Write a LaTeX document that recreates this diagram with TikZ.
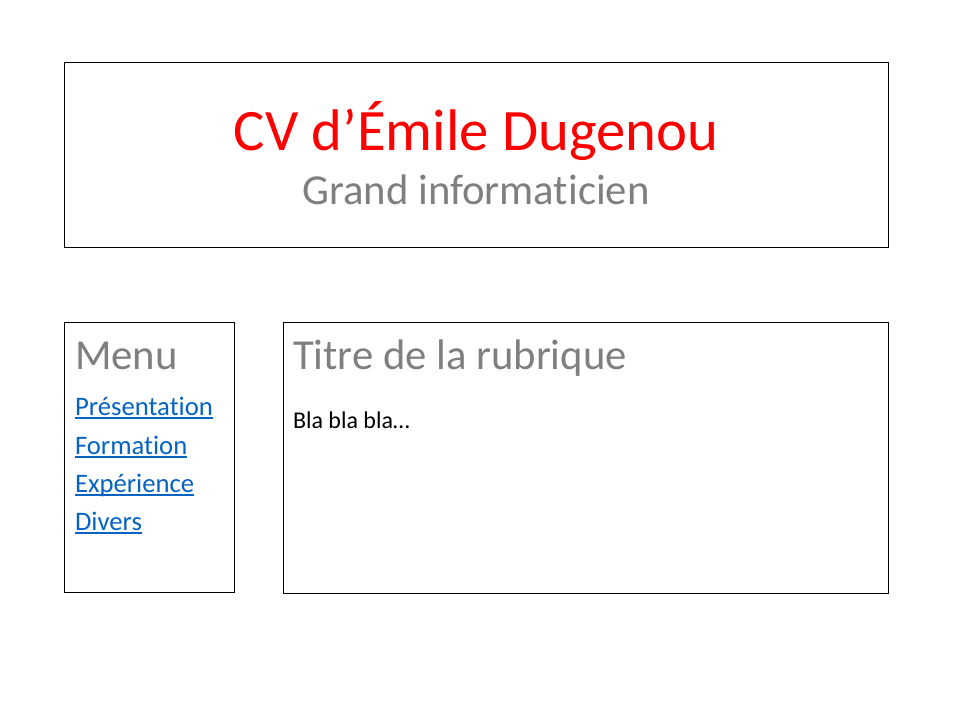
\documentclass[tikz,border=0pt]{standalone}
\usepackage{fontspec}
\setmainfont[Ligatures={NoCommon}]{Carlito}
\definecolor{cvred}{RGB}{255,0,0}
\definecolor{cvgray}{RGB}{127,127,127}
\definecolor{cvlink}{RGB}{5,99,193}
\begin{document}
\begin{tikzpicture}[x=1pt,y=-1pt,
  panel/.style={draw=black,line width=1pt},
  txt/.style={inner sep=0pt,outer sep=0pt},
  bigtitle/.style={txt,text=cvred,font=\fontsize{58.7}{70}\selectfont,anchor=base},
  subtitle/.style={txt,text=cvgray,font=\fontsize{42.7}{50}\selectfont,anchor=base},
  heading/.style={txt,text=cvgray,font=\fontsize{42.7}{50}\selectfont,anchor=base west},
  linktext/.style={txt,text=cvlink,font=\fontsize{26.7}{32}\selectfont,anchor=base west},
  bodytext/.style={txt,text=black,font=\fontsize{24}{29}\selectfont,anchor=base west},
  uline/.style={draw=cvlink,line width=1.6pt}
]
\useasboundingbox (0,0) rectangle (960,720);
\fill[white] (0,0) rectangle (960,720);
% panels
\draw[panel] (64,62) rectangle (888,247);
\draw[panel] (64,322) rectangle (234,592);
\draw[panel] (283,322) rectangle (888,593);
% header
\node[bigtitle] (title) at (476,150) {CV d’Émile Dugenou};
\node[subtitle] (sub) at (476,204) {Grand informaticien};
% menu
\node[heading] (menu) at (75,369) {Menu};
\node[linktext] (l1) at (75,415) {Présentation};
\node[linktext] (l2) at (75,454) {Formation};
\node[linktext] (l3) at (75,492) {Expérience};
\node[linktext] (l4) at (75,530) {Divers};
\foreach \n in {l1,l2,l3,l4}{
  \draw[uline] ([yshift=-3pt]\n.base west) -- ([yshift=-3pt]\n.base east);
}
% content
\node[heading] (rub) at (293,369) {Titre de la rubrique};
\node[bodytext] (bla) at (293,428) {Bla bla bla…};
\end{tikzpicture}
\end{document}
